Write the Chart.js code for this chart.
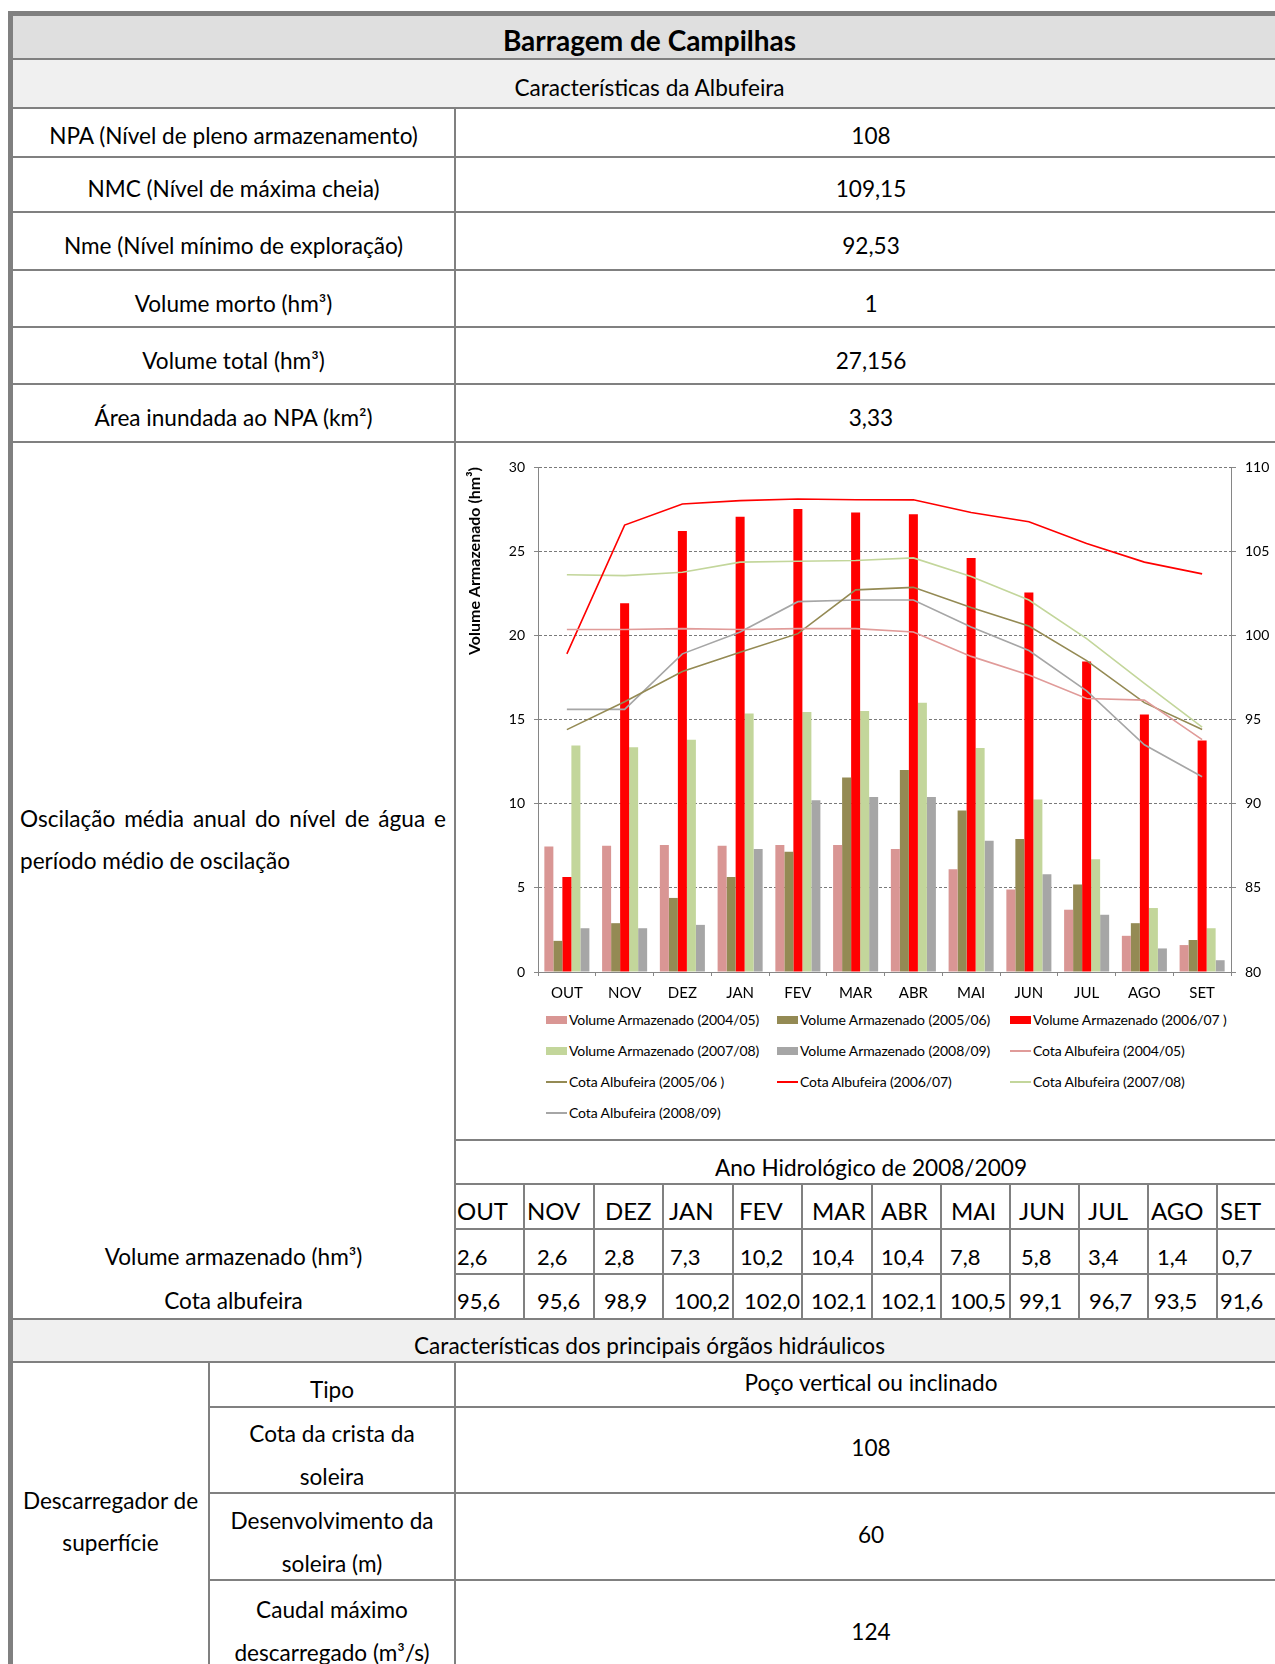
<!DOCTYPE html>
<html lang="pt">
<head>
<meta charset="utf-8">
<title>Barragem de Campilhas</title>
<script src="https://cdn.jsdelivr.net/npm/chart.js@4/dist/chart.umd.min.js"></script>
<style>
  html, body { margin: 0; padding: 0; background: #fff; }
  body { width: 1275px; height: 1664px; overflow: hidden; position: relative;
         font-family: Lato, "Open Sans", "DejaVu Sans", sans-serif; color: #000; }
  .ln { position: absolute; background: #808080; }
  .bg { position: absolute; }
  .t  { position: absolute; text-align: center; white-space: nowrap; font-size: 22.6px; line-height: 30px; }
  .m  { position: absolute; white-space: nowrap; line-height: 30px; }
  .osc { position: absolute; left: 20px; width: 426px; font-size: 22.6px; line-height: 37px; }
  #chart { position: absolute; left: 456px; top: 444px; }
  .lg { position: absolute; font-size: 14px; line-height: 16px; white-space: nowrap; letter-spacing: -0.1px; }
  .lgbox { position: absolute; width: 21px; }
</style>
</head>
<body>

<!-- shaded header bands -->
<div class="bg" style="left:13px;top:16px;width:1273px;height:42px;background:#dfdfdf"></div>
<div class="bg" style="left:13px;top:60px;width:1273px;height:47px;background:#f0f0f0"></div>
<div class="bg" style="left:13px;top:1320px;width:1273px;height:41px;background:#f0f0f0"></div>

<!-- table rules -->
<div class="ln" style="left:8px;top:11px;width:1278px;height:5px"></div>
<div class="ln" style="left:8px;top:11px;width:5px;height:1653px"></div>
<div class="ln" style="left:13px;top:58px;width:1273px;height:2px"></div>
<div class="ln" style="left:13px;top:107px;width:1273px;height:2px"></div>
<div class="ln" style="left:13px;top:156px;width:1273px;height:2px"></div>
<div class="ln" style="left:13px;top:211px;width:1273px;height:2px"></div>
<div class="ln" style="left:13px;top:269px;width:1273px;height:2px"></div>
<div class="ln" style="left:13px;top:326px;width:1273px;height:2px"></div>
<div class="ln" style="left:13px;top:383px;width:1273px;height:2px"></div>
<div class="ln" style="left:13px;top:441px;width:1273px;height:2px"></div>
<div class="ln" style="left:454px;top:1139px;width:832px;height:2px"></div>
<div class="ln" style="left:454px;top:1183px;width:832px;height:2px"></div>
<div class="ln" style="left:454px;top:1228px;width:832px;height:2px"></div>
<div class="ln" style="left:454px;top:1273px;width:832px;height:2px"></div>
<div class="ln" style="left:13px;top:1318px;width:1273px;height:2px"></div>
<div class="ln" style="left:13px;top:1361px;width:1273px;height:2px"></div>
<div class="ln" style="left:208px;top:1406px;width:1078px;height:2px"></div>
<div class="ln" style="left:208px;top:1492px;width:1078px;height:2px"></div>
<div class="ln" style="left:208px;top:1579px;width:1078px;height:2px"></div>
<div class="ln" style="left:454px;top:107px;width:2px;height:1213px"></div>
<div class="ln" style="left:208px;top:1361px;width:2px;height:303px"></div>
<div class="ln" style="left:454px;top:1361px;width:2px;height:303px"></div>
<div id="monthRules"></div>

<!-- reservoir characteristics -->
<div class="t" style="left:13px;width:1273px;top:25px;font-size:28px;font-weight:bold">Barragem de Campilhas</div>
<div class="t" style="left:13px;width:1273px;top:73px">Características da Albufeira</div>

<div class="t" style="left:13px;width:441px;top:121px">NPA (Nível de pleno armazenamento)</div>
<div class="t" style="left:456px;width:830px;top:121px">108</div>
<div class="t" style="left:13px;width:441px;top:174px">NMC (Nível de máxima cheia)</div>
<div class="t" style="left:456px;width:830px;top:174px">109,15</div>
<div class="t" style="left:13px;width:441px;top:231px">Nme (Nível mínimo de exploração)</div>
<div class="t" style="left:456px;width:830px;top:231px">92,53</div>
<div class="t" style="left:13px;width:441px;top:289px">Volume morto (hm³)</div>
<div class="t" style="left:456px;width:830px;top:289px">1</div>
<div class="t" style="left:13px;width:441px;top:346px">Volume total (hm³)</div>
<div class="t" style="left:456px;width:830px;top:346px">27,156</div>
<div class="t" style="left:13px;width:441px;top:403px">Área inundada ao NPA (km²)</div>
<div class="t" style="left:456px;width:830px;top:403px">3,33</div>

<div class="osc" style="top:800px;text-align:justify;text-align-last:justify">Oscilação média anual do nível de água e</div>
<div class="osc" style="top:842px;text-align:left">período médio de oscilação</div>

<canvas id="chart" width="819" height="564"></canvas>
<div id="legend"></div>

<div class="t" style="left:456px;width:830px;top:1153px">Ano Hidrológico de 2008/2009</div>
<div class="t" style="left:13px;width:441px;top:1242px">Volume armazenado (hm³)</div>
<div class="t" style="left:13px;width:441px;top:1286px">Cota albufeira</div>
<div id="monthTable"></div>

<!-- hydraulic structures -->
<div class="t" style="left:13px;width:1273px;top:1331px">Características dos principais órgãos hidráulicos</div>
<div class="t" style="left:13px;width:195px;top:1480px;line-height:41.5px">Descarregador de<br>superfície</div>
<div class="t" style="left:210px;width:244px;top:1375px">Tipo</div>
<div class="t" style="left:456px;width:830px;top:1368px">Poço vertical ou inclinado</div>
<div class="t" style="left:210px;width:244px;top:1412px;line-height:43px">Cota da crista da<br>soleira</div>
<div class="t" style="left:456px;width:830px;top:1433px">108</div>
<div class="t" style="left:210px;width:244px;top:1499px;line-height:43px">Desenvolvimento da<br>soleira (m)</div>
<div class="t" style="left:456px;width:830px;top:1520px">60</div>
<div class="t" style="left:210px;width:244px;top:1588px;line-height:43px">Caudal máximo<br>descarregado (m³/s)</div>
<div class="t" style="left:456px;width:830px;top:1617px">124</div>

<script>
// ---- data ----
const months = ['OUT', 'NOV', 'DEZ', 'JAN', 'FEV', 'MAR', 'ABR', 'MAI', 'JUN', 'JUL', 'AGO', 'SET'];

// stored volume (hm³) per hydrological year
const vol2004_05 = [7.45, 7.5, 7.55, 7.5, 7.55, 7.55, 7.3, 6.1, 4.9, 3.7, 2.15, 1.6];
const vol2005_06 = [1.85, 2.9, 4.4, 5.65, 7.15, 11.55, 12.0, 9.6, 7.9, 5.2, 2.9, 1.9];
const vol2006_07 = [5.65, 21.9, 26.2, 27.05, 27.5, 27.3, 27.2, 24.6, 22.55, 18.45, 15.3, 13.75];
const vol2007_08 = [13.45, 13.35, 13.8, 15.35, 15.45, 15.5, 16.0, 13.3, 10.25, 6.7, 3.8, 2.6];
const vol2008_09 = [2.6, 2.6, 2.8, 7.3, 10.2, 10.4, 10.4, 7.8, 5.8, 3.4, 1.4, 0.7];

// reservoir level (m) per hydrological year
const cota2004_05 = [100.35, 100.35, 100.4, 100.35, 100.4, 100.4, 100.2, 98.75, 97.65, 96.25, 96.15, 93.8];
const cota2005_06 = [94.4, 96.05, 97.85, 99.0, 100.1, 102.7, 102.85, 101.65, 100.55, 98.5, 96.0, 94.4];
const cota2006_07 = [98.9, 106.55, 107.8, 108.0, 108.1, 108.05, 108.05, 107.3, 106.75, 105.45, 104.35, 103.65];
const cota2007_08 = [103.6, 103.55, 103.75, 104.35, 104.4, 104.45, 104.6, 103.5, 102.1, 99.8, 97.15, 94.55];
const cota2008_09 = [95.6, 95.6, 98.9, 100.2, 102.0, 102.1, 102.1, 100.5, 99.1, 96.7, 93.5, 91.6];

const leftTicks = [0, 5, 10, 15, 20, 25, 30];
const rightTicks = [80, 85, 90, 95, 100, 105, 110];

// ---- 2008/2009 monthly table ----
const fmt = v => v.toFixed(1).replace('.', ',');
const colRules = [523, 593, 662, 732, 801, 871, 940, 1009, 1078, 1147, 1216];
const colLefts = [456].concat(colRules.map(x => x + 2));
const headPad = [1, 2, 10, 5, 5, 9, 8, 9, 8, 8, 2, 2];
const volPad  = [1, 12, 9, 6, 6, 8, 8, 8, 10, 8, 8, 4];
const cotaPad = [1, 12, 9, 10, 10, 8, 8, 8, 8, 9, 5, 2];

const rules = document.getElementById('monthRules');
colRules.forEach(x => {
  const d = document.createElement('div');
  d.className = 'ln';
  d.style.cssText = `left:${x}px;top:1183px;width:2px;height:135px`;
  rules.appendChild(d);
});
const mt = document.getElementById('monthTable');
function cell(text, left, top, size) {
  const d = document.createElement('div');
  d.className = 'm';
  d.style.cssText = `left:${left}px;top:${top}px;font-size:${size}px`;
  d.textContent = text;
  mt.appendChild(d);
}
months.forEach((m, i) => {
  cell(m, colLefts[i] + headPad[i], 1196, 24);
  cell(fmt(vol2008_09[i]), colLefts[i] + volPad[i], 1242, 22);
  cell(fmt(cota2008_09[i]), colLefts[i] + cotaPad[i], 1286, 22);
});

// ---- chart ----
const C = {
  pink: '#D99694', olive: '#948A54', red: '#FF0000', green: '#C3D69B', grey: '#A6A6A6',
  pinkLine: '#E09B99'
};
const bar = (label, data, color) => ({
  type: 'bar', label, data, backgroundColor: color, borderWidth: 0,
  yAxisID: 'y', order: 2, categoryPercentage: 0.78, barPercentage: 1.0
});
const line = (label, data, color) => ({
  type: 'line', label, data, borderColor: color, backgroundColor: color, borderWidth: 1.6,
  pointRadius: 0, tension: 0, fill: false, yAxisID: 'y1', order: 1
});

const datasets = [
  bar('Volume Armazenado (2004/05)', vol2004_05, C.pink),
  bar('Volume Armazenado (2005/06)', vol2005_06, C.olive),
  bar('Volume Armazenado (2006/07 )', vol2006_07, C.red),
  bar('Volume Armazenado (2007/08)', vol2007_08, C.green),
  bar('Volume Armazenado (2008/09)', vol2008_09, C.grey),
  line('Cota Albufeira (2004/05)', cota2004_05, C.pinkLine),
  line('Cota Albufeira (2005/06 )', cota2005_06, C.olive),
  line('Cota Albufeira (2006/07)', cota2006_07, C.red),
  line('Cota Albufeira (2007/08)', cota2007_08, C.green),
  line('Cota Albufeira (2008/09)', cota2008_09, C.grey)
];

const FONT = 'Lato, "Open Sans", sans-serif';
const axisGrey = '#868686';

const chart = new Chart(document.getElementById('chart'), {
  type: 'bar',
  data: { labels: months, datasets },
  options: {
    responsive: false,
    animation: false,
    devicePixelRatio: 1,
    layout: { padding: { top: 23, left: 0, right: 0, bottom: 0 } },
    plugins: { legend: { display: false }, tooltip: { enabled: false } },
    scales: {
      x: {
        type: 'category', offset: true,
        grid: { display: true, offset: true, drawOnChartArea: false, drawTicks: true, tickLength: 4, tickColor: axisGrey, color: axisGrey },
        border: { display: true, color: axisGrey, width: 1 },
        ticks: { font: { family: FONT, size: 15 }, color: '#000', padding: 8, maxRotation: 0, autoSkip: false },
        afterFit(s) { s.height = 36; }
      },
      y: {
        position: 'left', min: leftTicks[0], max: leftTicks[leftTicks.length - 1],
        afterBuildTicks(s) { s.ticks = leftTicks.map(v => ({ value: v })); },
        ticks: { font: { family: FONT, size: 14 }, color: '#000', padding: 9 },
        grid: { color: '#7a7a7a', lineWidth: 1, drawTicks: true, tickLength: 4, tickColor: axisGrey, tickBorderDash: [] },
        border: { display: true, color: axisGrey, width: 1, dash: [3, 2] },
        title: {
          display: true, text: 'Volume Armazenado (hm³)', align: 'end', color: '#000',
          font: { family: FONT, size: 16, weight: 'bold' }, padding: { top: 9, bottom: 0 }
        },
        afterFit(s) { s.width = 82; }
      },
      y1: {
        position: 'right', min: rightTicks[0], max: rightTicks[rightTicks.length - 1],
        afterBuildTicks(s) { s.ticks = rightTicks.map(v => ({ value: v })); },
        ticks: { font: { family: FONT, size: 14 }, color: '#000', padding: 9 },
        grid: { drawOnChartArea: false, drawTicks: true, tickLength: 5, tickColor: axisGrey },
        border: { display: true, color: axisGrey, width: 1 },
        afterFit(s) { s.width = 44; }
      }
    }
  }
});

// legend laid out in three columns below the plot
const lgCols = [546, 777, 1010];
const lgRows = [1020, 1051, 1082, 1113];
const lg = document.getElementById('legend');
chart.data.datasets.forEach((ds, i) => {
  const x = lgCols[i % 3], yc = lgRows[Math.floor(i / 3)];
  const box = document.createElement('div');
  box.className = 'lgbox';
  if (ds.type === 'bar') {
    box.style.cssText = `left:${x}px;top:${yc - 4}px;height:8px;background:${ds.backgroundColor}`;
  } else {
    box.style.cssText = `left:${x}px;top:${yc - 1}px;height:2px;background:${ds.borderColor}`;
  }
  lg.appendChild(box);
  const t = document.createElement('div');
  t.className = 'lg';
  t.style.cssText = `left:${x + 23}px;top:${yc - 8}px`;
  t.textContent = ds.label;
  lg.appendChild(t);
});

if (document.fonts && document.fonts.ready) {
  document.fonts.ready.then(() => chart.update());
}
</script>
</body>
</html>
